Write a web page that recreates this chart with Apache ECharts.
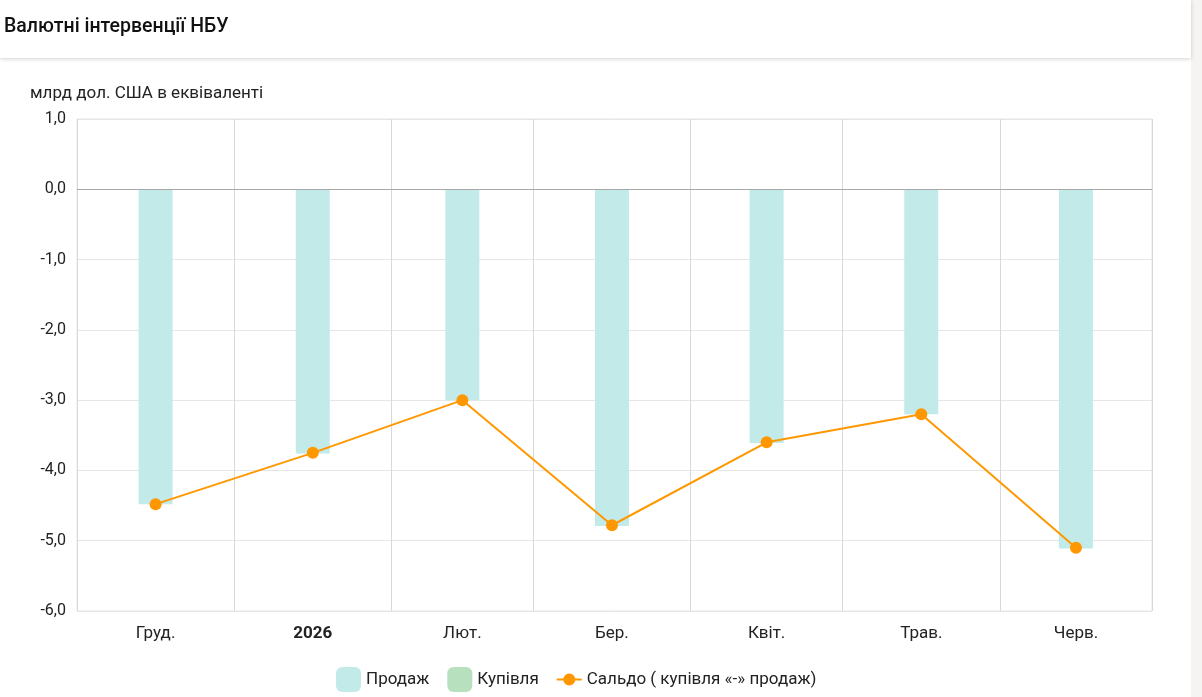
<!DOCTYPE html>
<html lang="uk">
<head>
    <meta charset="UTF-8">
    <title>Валютні інтервенції НБУ</title>
    <script src="https://cdn.jsdelivr.net/npm/echarts@6/dist/echarts.min.js"></script>
    <style>
        html, body { margin: 0; padding: 0; background: #fff; }
        #main { width: 1202px; height: 697px; }
    </style>
</head>
<body>
    <div id="main"></div>
    <script type="text/javascript">
        // межі місяців (лінії сітки); стовпці стоять посередині кожного місяця
        var monthStarts = ['2025-12-01', '2026-01-01', '2026-02-01', '2026-03-01',
                           '2026-04-01', '2026-05-01', '2026-06-01', '2026-07-01'];
        var monthLabels = ['Груд.', '2026', 'Лют.', 'Бер.', 'Квіт.', 'Трав.', 'Черв.'];

        var sales = [-4.48, -3.76, -3.00, -4.79, -3.61, -3.20, -5.11];
        var purchases = [0, 0, 0, 0, 0, 0, 0];
        var saldo = [-4.48, -3.75, -3.00, -4.78, -3.60, -3.20, -5.10];

        var yTicks = [-6, -5, -4, -3, -2, -1, 0, 1];

        // вісь X у днях від 1 грудня, щоб місяці мали справжню довжину
        var DAY = 24 * 3600 * 1000;
        var origin = new Date('2025-12-01T00:00:00Z').getTime();
        function dayOf(s) { return Math.round((new Date(s + 'T00:00:00Z').getTime() - origin) / DAY); }
        var startDays = monthStarts.map(dayOf);
        var midDays = monthLabels.map(function (l, i) { return (startDays[i] + startDays[i + 1]) / 2; });

        function pairs(vals) {
            return vals.map(function (v, i) { return [midDays[i], v]; });
        }

        var myChart = echarts.init(document.getElementById('main'));

        var option = {
            animation: false,
            textStyle: { fontFamily: 'Roboto' },
            graphic: [
                { type: 'rect', left: 1191, top: 0, shape: { width: 11, height: 697 }, style: { fill: '#f6f4f3' } },
                {
                    type: 'rect', left: 0, top: 0, z: 10,
                    shape: { width: 1191, height: 58 },
                    style: { fill: '#fff', shadowBlur: 4, shadowOffsetY: 1, shadowColor: 'rgba(0,0,0,0.18)' }
                },
                {
                    type: 'text', left: 4, top: 17, z: 11,
                    style: { text: 'Валютні інтервенції НБУ', font: '500 19.5px Roboto', fill: '#111' }
                },
                {
                    type: 'text', left: 30, top: 85,
                    style: { text: 'млрд дол. США в еквіваленті', font: '17px Roboto', fill: '#222' }
                }
            ],
            grid: {
                left: 77, right: 50, top: 119, bottom: 86,
                show: true, borderColor: '#e6e6e6', borderWidth: 1
            },
            legend: {
                top: 662,
                left: 331,
                itemWidth: 25,
                itemHeight: 25,
                itemGap: 18,
                textStyle: { fontSize: 17, color: '#222', fontFamily: 'Roboto' },
                data: [
                    { name: 'Продаж', icon: 'roundRect' },
                    { name: 'Купівля', icon: 'roundRect' },
                    {
                        name: 'Сальдо ( купівля «-» продаж)',
                        icon: 'path://M0,6 L25,6 L25,8 L0,8 Z M18.5,7 A6,6 0 1,1 6.5,7 A6,6 0 1,1 18.5,7 Z'
                    }
                ]
            },
            xAxis: {
                type: 'value',
                min: startDays[0],
                max: startDays[startDays.length - 1],
                axisLine: { show: false },
                axisTick: { show: false, customValues: startDays },
                splitLine: { show: true, lineStyle: { color: '#d9d9d9', width: 1 } },
                axisLabel: {
                    customValues: midDays,
                    margin: 14,
                    fontSize: 17,
                    color: '#222',
                    formatter: function (val) {
                        var i = midDays.indexOf(val);
                        if (i < 0) return '';
                        return i === 1 ? '{b|' + monthLabels[i] + '}' : monthLabels[i];
                    },
                    rich: { b: { fontWeight: 'bold', fontSize: 17, color: '#222' } }
                }
            },
            yAxis: {
                type: 'value',
                min: yTicks[0],
                max: yTicks[yTicks.length - 1],
                interval: 1,
                axisLine: { show: false },
                axisTick: { show: false },
                splitLine: { lineStyle: { color: '#e6e6e6' } },
                axisLabel: {
                    margin: 11,
                    fontSize: 16,
                    color: '#222',
                    padding: [4, 0, 0, 0],
                    formatter: function (v) { return v.toFixed(1).replace('.', ','); }
                }
            },
            series: [
                {
                    name: 'Продаж',
                    type: 'bar',
                    barWidth: 34,
                    barGap: '-100%',
                    itemStyle: { color: '#c2eae9' },
                    data: pairs(sales),
                    markLine: {
                        silent: true,
                        symbol: 'none',
                        label: { show: false },
                        lineStyle: { color: '#a8a8a8', width: 1, type: 'solid' },
                        data: [{ yAxis: 0 }]
                    }
                },
                {
                    name: 'Купівля',
                    type: 'bar',
                    barWidth: 34,
                    itemStyle: { color: '#b7e0be' },
                    data: pairs(purchases)
                },
                {
                    name: 'Сальдо ( купівля «-» продаж)',
                    type: 'line',
                    symbol: 'circle',
                    symbolSize: 12,
                    itemStyle: { color: '#ff9800' },
                    lineStyle: { color: '#ff9800', width: 2 },
                    data: pairs(saldo)
                }
            ]
        };

        myChart.setOption(option);
    </script>
</body>
</html>
